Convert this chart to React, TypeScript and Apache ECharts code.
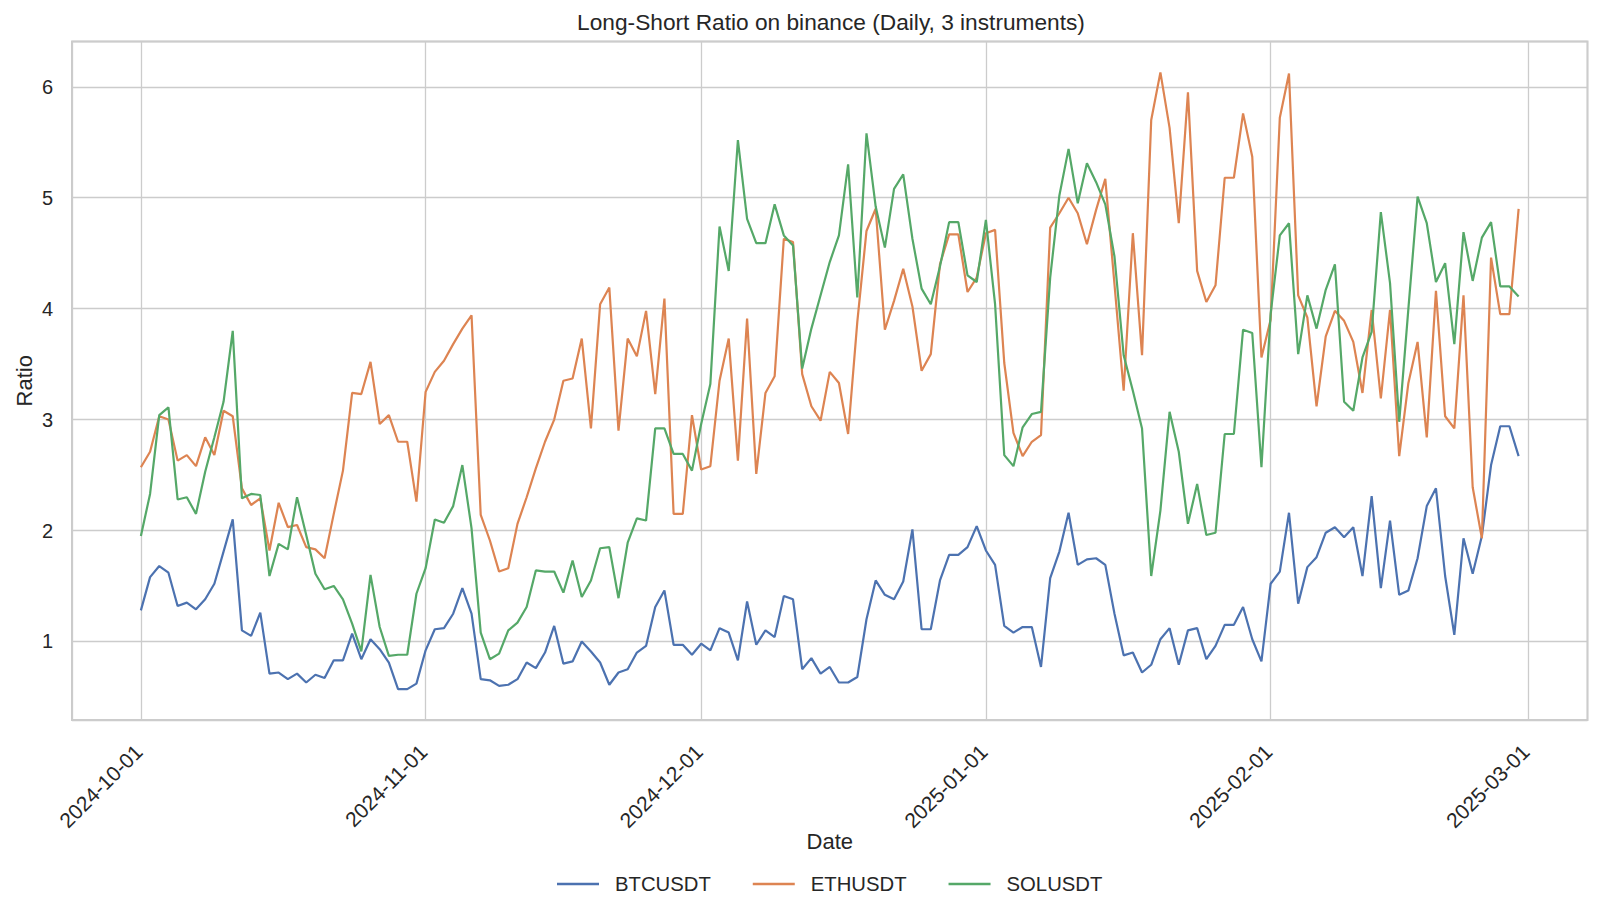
import React, { useEffect, useRef } from "react";
import * as echarts from "echarts";

const TITLE = "Long-Short Ratio on binance (Daily, 3 instruments)";
const X_NAME = "Date";
const Y_NAME = "Ratio";
const START = [2024, 9, 1]; // 2024-10-01 (month is 0-based)

const SERIES_NAMES = ["BTCUSDT", "ETHUSDT", "SOLUSDT"];
const COLORS = ["#4C72B0", "#DD8452", "#55A868"];

const btc = [
  1.28, 1.58, 1.68, 1.62, 1.32, 1.35, 1.29, 1.38, 1.52, 1.81, 2.10, 1.10, 1.05, 1.26, 0.71, 0.72,
  0.66, 0.71, 0.63, 0.70, 0.67, 0.83, 0.83, 1.07, 0.84, 1.02, 0.93, 0.81, 0.57, 0.57, 0.62,
  0.92, 1.11, 1.12, 1.25, 1.48, 1.25, 0.66, 0.65, 0.60, 0.61, 0.66, 0.81, 0.76, 0.90, 1.14,
  0.80, 0.82, 1.00, 0.91, 0.81, 0.61, 0.72, 0.75, 0.90, 0.96, 1.31, 1.46, 0.97, 0.97, 0.88,
  0.98, 0.92, 1.12, 1.08, 0.83, 1.36, 0.97, 1.10, 1.04, 1.41, 1.38, 0.75, 0.85, 0.71, 0.77,
  0.63, 0.63, 0.68, 1.20, 1.55, 1.42, 1.38, 1.54, 2.01, 1.11, 1.11, 1.55, 1.78, 1.78, 1.85, 2.04,
  1.82, 1.69, 1.14, 1.08, 1.13, 1.13, 0.77, 1.57, 1.81, 2.16, 1.69, 1.74, 1.75, 1.69, 1.25,
  0.875, 0.90, 0.72, 0.79, 1.02, 1.12, 0.79, 1.10, 1.12, 0.84, 0.96, 1.15, 1.15, 1.31, 1.02, 0.82,
  1.52, 1.63, 2.16, 1.34, 1.67, 1.76, 1.98, 2.03, 1.94, 2.03, 1.59, 2.31, 1.48, 2.09, 1.42,
  1.46, 1.75, 2.22, 2.38, 1.59, 1.06, 1.93, 1.61, 1.95, 2.59, 2.94, 2.94, 2.67,
];

const eth = [
  2.57, 2.71, 3.03, 3.00, 2.63, 2.68, 2.58, 2.84, 2.68, 3.08, 3.03, 2.38, 2.23, 2.29, 1.82, 2.25,
  2.03, 2.05, 1.85, 1.83, 1.75, 2.15, 2.54, 3.24, 3.23, 3.52, 2.96, 3.04, 2.80, 2.80, 2.26,
  3.25, 3.43, 3.53, 3.68, 3.82, 3.94, 2.14, 1.91, 1.63, 1.66, 2.06, 2.30, 2.56, 2.80, 3.00,
  3.35, 3.37, 3.73, 2.92, 4.04, 4.19, 2.90, 3.73, 3.57, 3.98, 3.23, 4.09, 2.15, 2.15, 3.04,
  2.55, 2.58, 3.35, 3.73, 2.63, 3.91, 2.51, 3.24, 3.39, 4.63, 4.60, 3.41, 3.12, 2.99, 3.43,
  3.33, 2.87, 3.88, 4.70, 4.90, 3.81, 4.07, 4.36, 4.02, 3.44, 3.59, 4.40, 4.67, 4.67, 4.15, 4.28,
  4.68, 4.71, 3.51, 2.88, 2.67, 2.80, 2.86, 4.73, 4.86, 5.00, 4.86, 4.58, 4.89, 5.17, 4.22,
  3.26, 4.68, 3.58, 5.70, 6.13, 5.63, 4.77, 5.95, 4.34, 4.06, 4.21, 5.18, 5.18, 5.76, 5.37, 3.56,
  3.90, 5.72, 6.12, 4.12, 3.92, 3.12, 3.75, 3.98, 3.89, 3.70, 3.24, 3.99, 3.19, 3.99, 2.67,
  3.33, 3.70, 2.84, 4.16, 3.03, 2.92, 4.12, 2.39, 1.93, 4.46, 3.95, 3.95, 4.90,
];

const sol = [
  1.95, 2.33, 3.04, 3.11, 2.28, 2.30, 2.15, 2.53, 2.84, 3.16, 3.80, 2.29, 2.33, 2.32, 1.59, 1.88,
  1.83, 2.30, 1.96, 1.61, 1.47, 1.50, 1.38, 1.16, 0.91, 1.60, 1.13, 0.87, 0.88, 0.88, 1.43,
  1.66, 2.10, 2.07, 2.22, 2.59, 2.02, 1.08, 0.84, 0.89, 1.10, 1.17, 1.31, 1.64, 1.63, 1.63,
  1.44, 1.73, 1.40, 1.55, 1.84, 1.85, 1.39, 1.89, 2.11, 2.09, 2.92, 2.92, 2.69, 2.69, 2.54,
  2.96, 3.32, 4.74, 4.34, 5.52, 4.81, 4.59, 4.59, 4.94, 4.66, 4.57, 3.46, 3.82, 4.12, 4.42,
  4.66, 5.30, 4.10, 5.58, 4.92, 4.55, 5.08, 5.21, 4.63, 4.18, 4.04, 4.38, 4.78, 4.78, 4.30, 4.24,
  4.80, 4.04, 2.68, 2.58, 2.93, 3.05, 3.07, 4.28, 5.02, 5.44, 4.95, 5.31, 5.14, 4.94, 4.47,
  3.58, 3.26, 2.92, 1.59, 2.18, 3.07, 2.71, 2.06, 2.42, 1.96, 1.98, 2.87, 2.87, 3.81, 3.78, 2.57,
  3.95, 4.66, 4.77, 3.59, 4.12, 3.82, 4.17, 4.40, 3.16, 3.08, 3.56, 3.79, 4.87, 4.23, 2.98,
  4.00, 5.01, 4.77, 4.24, 4.41, 3.68, 4.69, 4.25, 4.64, 4.78, 4.20, 4.20, 4.11,
];

const SERIES_VALUES = [btc, eth, sol];

const FONT = "'Liberation Sans', Arial, sans-serif";
const TEXT_COLOR = "#262626";
const GRID_COLOR = "#cccccc";

export default function App() {
  const ref = useRef<HTMLDivElement>(null);

  useEffect(() => {
    document.documentElement.style.margin = "0";
    document.body.style.margin = "0";
    if (!ref.current) return;
    const chart = echarts.init(ref.current, null, { renderer: "svg" });

    const n = btc.length;
    const dates = Array.from({ length: n }, (_, i) =>
      new Date(START[0], START[1], START[2] + i).getTime()
    );
    const day = 86400000;
    const xSpan = dates[n - 1] - dates[0];
    const xMin = dates[0] - 0.05 * xSpan;
    const xMax = dates[n - 1] + 0.05 * xSpan;

    const all = SERIES_VALUES.flat();
    const lo = Math.min(...all);
    const hi = Math.max(...all);
    const yMin = lo - 0.05 * (hi - lo);
    const yMax = hi + 0.05 * (hi - lo);

    chart.setOption({
      animation: false,
      backgroundColor: "#ffffff",
      textStyle: { fontFamily: FONT },
      title: {
        text: TITLE,
        left: 826,
        textAlign: "center",
        top: 5,
        textStyle: { fontFamily: FONT, fontSize: 22.7, fontWeight: "normal", color: TEXT_COLOR },
      },
      legend: {
        data: SERIES_NAMES,
        left: 552,
        top: 869,
        icon: "rect",
        itemWidth: 42,
        itemHeight: 2.4,
        itemGap: 42,
        textStyle: { fontFamily: FONT, fontSize: 20.3, color: TEXT_COLOR, padding: [0, 0, 0, 11] },
      },
      grid: {
        left: 72,
        right: 12.5,
        top: 41.5,
        bottom: 195,
        show: true,
        borderColor: GRID_COLOR,
        borderWidth: 2,
        containLabel: false,
      },
      xAxis: {
        type: "time",
        min: xMin,
        max: xMax,
        name: X_NAME,
        nameLocation: "middle",
        nameGap: 110,
        nameMoveOverlap: false,
        nameTextStyle: { fontFamily: FONT, fontSize: 22, color: TEXT_COLOR, verticalAlign: "top" },
        axisLine: { show: false },
        axisTick: { show: false },
        splitLine: { show: true, lineStyle: { color: GRID_COLOR, width: 1.3 } },
        axisLabel: {
          formatter: "{yyyy}-{MM}-{dd}",
          rotate: 45,
          margin: 26,
          padding: [0, 3, 0, 0],
          fontFamily: FONT,
          fontSize: 21,
          color: TEXT_COLOR,
          fontWeight: "normal",
          hideOverlap: false,
        },
        minInterval: 28 * day,
      },
      yAxis: {
        type: "value",
        min: yMin,
        max: yMax,
        name: Y_NAME,
        nameLocation: "middle",
        nameGap: 37,
        nameMoveOverlap: false,
        nameTextStyle: { fontFamily: FONT, fontSize: 22, color: TEXT_COLOR },
        axisLine: { show: false },
        axisTick: { show: false },
        splitLine: { show: true, lineStyle: { color: GRID_COLOR, width: 1.3 } },
        axisLabel: {
          showMinLabel: false,
          showMaxLabel: false,
          margin: 19,
          fontFamily: FONT,
          fontSize: 20,
          color: TEXT_COLOR,
        },
      },
      series: SERIES_NAMES.map((name, k) => ({
        name,
        type: "line",
        showSymbol: false,
        symbol: "none",
        color: COLORS[k],
        lineStyle: { width: 2.2, color: COLORS[k] },
        data: dates.map((d, i) => [d, SERIES_VALUES[k][i]]),
      })),
    });

    return () => chart.dispose();
  }, []);

  return (
    <div
      ref={ref}
      style={{ position: "fixed", left: 0, top: 0, width: 1600, height: 915, background: "#fff" }}
    />
  );
}
